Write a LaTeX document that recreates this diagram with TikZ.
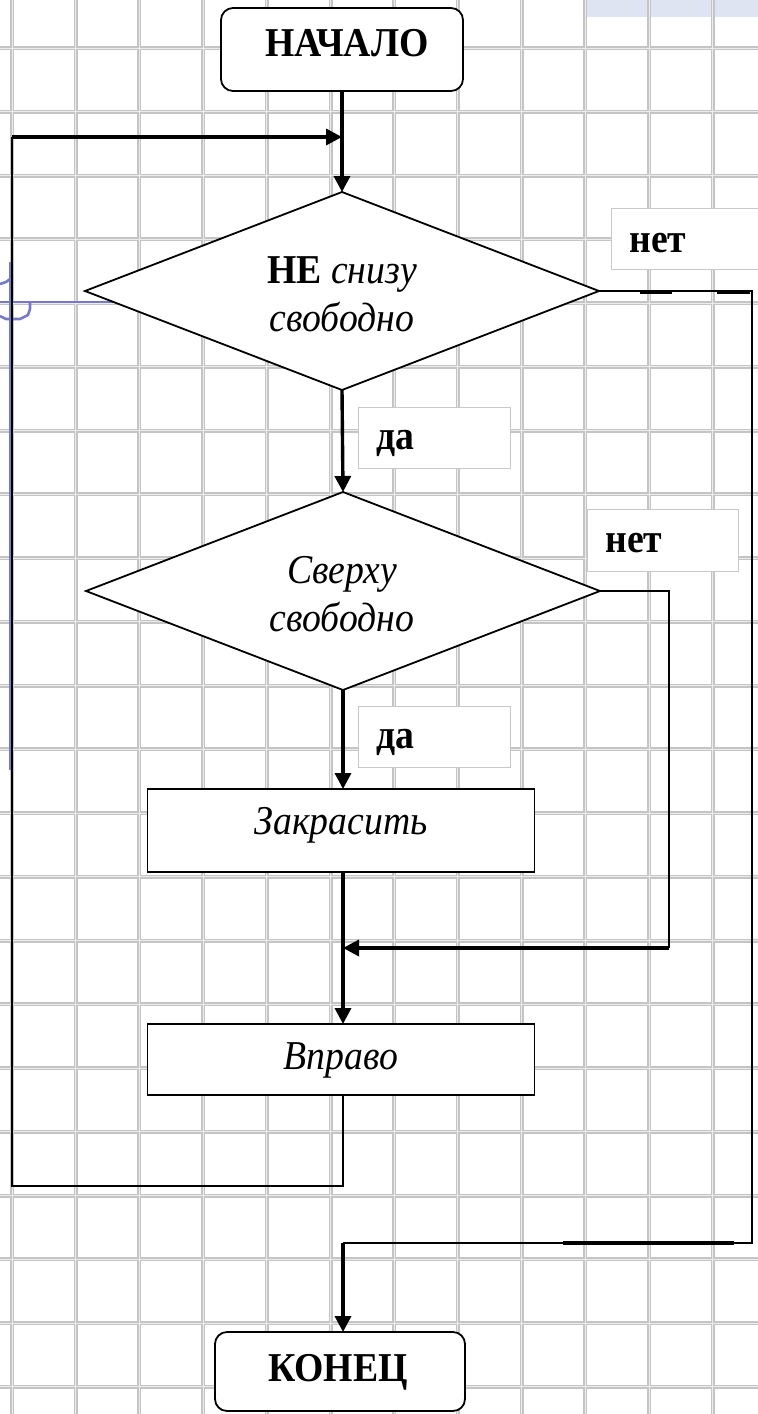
\documentclass[tikz,border=0pt]{standalone}
\usepackage{fontspec}
\setmainfont{Liberation Serif}[FakeStretch=0.92]
\usetikzlibrary{arrows.meta,shapes.geometric}
\definecolor{gridc}{RGB}{196,196,196}
\definecolor{gridi}{RGB}{236,236,236}
\definecolor{bluec}{RGB}{120,120,200}
\definecolor{patc}{RGB}{222,228,242}
\definecolor{lblc}{RGB}{200,200,200}
\begin{document}
\begin{tikzpicture}[x=0.5pt,y=-0.5pt,
  txt/.style={inner sep=0pt,font=\fontsize{20.5}{24}\selectfont},
  shapebox/.style={draw=black,fill=white,line width=0.9pt,inner sep=0pt,outer sep=0pt},
  term/.style={shapebox,rounded corners=6pt,minimum width=121pt,minimum height=41.5pt},
  actbox/.style={shapebox,minimum width=193.5pt},
  decision/.style={shapebox,diamond,minimum width=257pt,minimum height=99pt},
  lblbox/.style={draw=lblc,fill=white,line width=0.5pt,inner sep=0pt},
  thickline/.style={line width=1.7pt},
  thinline/.style={line width=1pt},
  arr/.style={-{Triangle[length=8pt,width=8pt]}}
]
\useasboundingbox (0,0) rectangle (758,1414);
\fill[white] (0,0) rectangle (758,1414);
% patterned strip top right
\fill[patc] (585,0) rectangle (758,17);
% grid
\foreach \k in {0,...,11} \draw[gridc,line width=2pt] ({12+63.7*\k},0) -- ({12+63.7*\k},1414);
\foreach \k in {0,...,21} \draw[gridc,line width=2pt] (0,{48+63.76*\k}) -- (758,{48+63.76*\k});
\foreach \k in {0,...,11} \draw[gridi,line width=0.5pt] ({12+63.7*\k},0) -- ({12+63.7*\k},1414);
\foreach \k in {0,...,21} \draw[gridi,line width=0.5pt] (0,{48+63.76*\k}) -- (758,{48+63.76*\k});
% blue annotation remains
\draw[bluec,line width=1.3pt] (0,302) -- (113,302);
\draw[bluec,line width=1.3pt] (10,262) -- (10,770);
\draw[bluec,line width=1.3pt] (0,284) -- (6,282) -- (10,279);
\draw[bluec,line width=1.3pt] (0,316) -- (6,319) -- (20,319) -- (28,315) -- (30,309) -- (30,302);

% label boxes
\node[lblbox,minimum width=80pt,minimum height=30.5pt] (no1) at (691,238.5) {};
\node[lblbox,minimum width=75.5pt,minimum height=31pt] (no2) at (662.5,540) {};
\node[lblbox,minimum width=76pt,minimum height=30.5pt] (yes1) at (434,437.5) {};
\node[lblbox,minimum width=76pt,minimum height=30.5pt] (yes2) at (434,736.5) {};
\node[txt,anchor=base west] (no1t) at (629,252) {\textbf{нет}};
\node[txt,anchor=base west] (no2t) at (605,552) {\textbf{нет}};
\node[txt,anchor=base west] (yes1t) at (376,449) {\textbf{да}};
\node[txt,anchor=base west] (yes2t) at (376,748) {\textbf{да}};

% shapes
\node[term] (start) at (342,49.5) {};
\node[decision] (d1) at (342,291) {};
\node[decision] (d2) at (343,591) {};
\node[actbox,minimum height=41.5pt] (paint) at (341,830.5) {};
\node[actbox,minimum height=35.5pt] (move) at (341,1059.5) {};
\node[term,minimum width=125pt,minimum height=39.5pt] (finish) at (340,1371.5) {};

% texts
\node[txt,anchor=base] (startt) at (347,56) {\textbf{НАЧАЛО}};
\node[txt,anchor=base] (d1a) at (342,283) {\textbf{НЕ} \textit{снизу}};
\node[txt,anchor=base] (d1b) at (342,331) {\textit{свободно}};
\node[txt,anchor=base] (d2a) at (342,583) {\textit{Сверху}};
\node[txt,anchor=base] (d2b) at (342,631) {\textit{свободно}};
\node[txt,anchor=base] (paintt) at (341,834) {\textit{Закрасить}};
\node[txt,anchor=base] (movet) at (341,1069) {\textit{Вправо}};
\node[txt,anchor=base] (finisht) at (338,1381) {\textbf{КОНЕЦ}};

% coordinates
\coordinate (loopin) at (342,137);
\coordinate (looptl) at (12,137);
\coordinate (loopbl) at (12,1186);
\coordinate (j2) at (343,948);
\coordinate (r2) at (669,948);
\coordinate (rb) at (752,1243);
\coordinate (jend) at (343,1243);

% connectors
\draw[thickline,arr] (start.south -| loopin) -- (d1.north);
\draw[thinline] (move.south -| 343,0) |- (loopbl) -- (looptl);
\draw[thickline,arr] (looptl) -- (loopin);
\draw[thickline,arr] (d1.south) -- (d2.north);
\draw[thickline,arr] (d2.south) -- (paint.north -| d2.south);
\draw[thickline,arr] (paint.south -| d2.south) -- (move.north -| d2.south);
\draw[thinline] (d2.east) -| (r2);
\draw[thickline,arr] (r2) -- (j2);
\draw[thinline] (d1.east) -| (rb) -- (jend);
\draw[thickline] (640,292) -- (672,292);
\draw[thickline] (717,292) -- (750,292);
\draw[thickline] (563,1243) -- (734,1243);
\draw[thickline,arr] (jend) -- (finish.north -| jend);
\end{tikzpicture}
\end{document}
